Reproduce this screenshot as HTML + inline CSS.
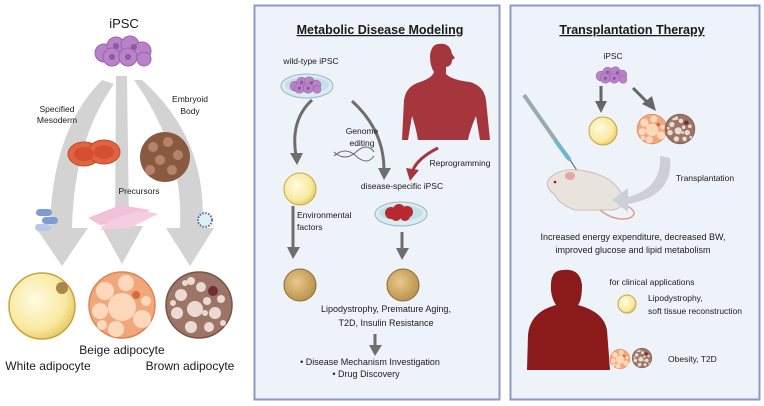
<!DOCTYPE html>
<html><head><meta charset="utf-8"><style>
html,body{margin:0;padding:0;background:#fff}
svg{display:block}
text{font-family:"Liberation Sans",Arial,sans-serif;fill:#1a1a1a}
</style></head><body>
<svg width="764" height="406" viewBox="0 0 764 406" xmlns="http://www.w3.org/2000/svg">
<defs>
<radialGradient id="yel" cx="40%" cy="40%" r="65%"><stop offset="0" stop-color="#fffbe0"/><stop offset="0.7" stop-color="#f9e9a0"/><stop offset="1" stop-color="#e5c860"/></radialGradient>
<radialGradient id="brn" cx="40%" cy="40%" r="65%"><stop offset="0" stop-color="#e8c98a"/><stop offset="1" stop-color="#b8904a"/></radialGradient>
<g id="beige"><circle r="33" fill="#f2a77a" stroke="#d9855a" stroke-width="1.5"/>
<circle cx="0" cy="2" r="14" fill="#fcd9bc"/><circle cx="-17" cy="-14" r="9" fill="#fcd9bc"/><circle cx="4" cy="-22" r="8" fill="#fcd9bc"/><circle cx="-22" cy="6" r="8" fill="#fcd9bc"/><circle cx="20" cy="14" r="9" fill="#fcd9bc"/><circle cx="-6" cy="24" r="8" fill="#fcd9bc"/><circle cx="-20" cy="20" r="5" fill="#fcd9bc"/><circle cx="24" cy="-4" r="5" fill="#fcd9bc"/><circle cx="14" cy="-10" r="4" fill="#d86a40"/></g>
<g id="brown"><circle r="33" fill="#9c7566" stroke="#7a5446" stroke-width="1.5"/>
<g fill="#eadbd2"><circle cx="-4" cy="4" r="8"/><circle cx="-18" cy="-10" r="6"/><circle cx="2" cy="-18" r="5"/><circle cx="-22" cy="8" r="6"/><circle cx="16" cy="8" r="6"/><circle cx="-8" cy="22" r="6"/><circle cx="10" cy="22" r="5"/><circle cx="22" cy="-6" r="4"/><circle cx="-8" cy="-24" r="4"/><circle cx="8" cy="-4" r="4"/><circle cx="-14" cy="-22" r="3"/><circle cx="24" cy="18" r="3"/><circle cx="-26" cy="-2" r="3"/><circle cx="6" cy="8" r="3"/></g>
<circle cx="14" cy="-14" r="5" fill="#6e3030"/></g>
<g id="ipsc" fill="#b982c8" stroke="#9a64ad" stroke-width="1"><circle cx="-20" cy="2" r="9"/><circle cx="-8" cy="-5" r="9"/><circle cx="6" cy="-6" r="9"/><circle cx="18" cy="0" r="9"/><circle cx="-12" cy="6" r="9"/><circle cx="4" cy="6" r="9"/><circle cx="20" cy="8" r="7"/>
<g fill="#8e5a9f" stroke="none"><circle cx="-12" cy="6" r="3"/><circle cx="4" cy="6" r="3"/><circle cx="-8" cy="-5" r="3"/><circle cx="10" cy="-4" r="3"/></g></g>
</defs>

<!-- LEFT PANEL -->
<text x="124" y="28" font-size="13" text-anchor="middle">iPSC</text>
<use href="#ipsc" x="124" y="51"/>
<g fill="#d3d3d3">
<path d="M102 80 Q52 130 50 228 L36 228 L62 266 L88 228 L72 228 Q74 140 114 84 Z"/>
<path d="M116 76 L115 226 L101 226 L122 264 L143 226 L129 226 L127 76 Z"/>
<path d="M134 80 L142 80 Q209 140 202 228 L214 228 L190 266 L166 228 L180 228 Q184 150 134 80 Z"/>
</g>
<text font-size="8.5" text-anchor="middle"><tspan x="57" y="112">Specified</tspan><tspan x="57" y="123">Mesoderm</tspan></text>
<text font-size="8.5" text-anchor="middle"><tspan x="190" y="102">Embryoid</tspan><tspan x="190" y="114">Body</tspan></text>
<text x="139" y="194" font-size="8.5" text-anchor="middle">Precursors</text>
<ellipse cx="84" cy="154" rx="16" ry="12" fill="#e0643f" stroke="#c04a2a"/>
<ellipse cx="104" cy="152" rx="16" ry="12" fill="#e0643f" stroke="#c04a2a"/>
<ellipse cx="84" cy="154" rx="10" ry="7" fill="#d34f30"/><ellipse cx="104" cy="152" rx="10" ry="7" fill="#d34f30"/>
<circle cx="165" cy="157" r="25" fill="#8a5a40"/>
<g fill="#b5826a"><circle cx="153" cy="147" r="5"/><circle cx="168" cy="142" r="5"/><circle cx="178" cy="155" r="5"/><circle cx="160" cy="160" r="5"/><circle cx="150" cy="170" r="5"/><circle cx="172" cy="170" r="5"/></g>
<path d="M88 218 L120 205 L150 210 L130 222 L100 225 Z" fill="#f2c0d8"/>
<path d="M110 220 L140 210 L158 214 L130 228 L100 230 Z" fill="#f5cde0"/>
<rect x="36" y="209" width="16" height="7" rx="3.5" fill="#7f9bd5"/><rect x="42" y="217" width="16" height="7" rx="3.5" fill="#7f9bd5"/><rect x="35" y="224" width="16" height="7" rx="3.5" fill="#b8c7e8"/>
<circle cx="205" cy="220" r="7" fill="#dff0f4" stroke="#4a6fa8" stroke-width="2" stroke-dasharray="1.5 1.5"/>
<circle cx="42" cy="306" r="33" fill="url(#yel)" stroke="#c8a440" stroke-width="1.5"/>
<circle cx="62" cy="288" r="6" fill="#a8884a"/>
<use href="#beige" x="122" y="305"/>
<use href="#brown" x="199" y="305"/>
<text font-size="12" text-anchor="middle"><tspan x="122" y="354">Beige adipocyte</tspan><tspan x="48" y="370">White adipocyte</tspan><tspan x="190" y="370">Brown adipocyte</tspan></text>

<!-- MIDDLE PANEL -->
<rect x="254.5" y="5.5" width="245" height="394" fill="#eef3fa" stroke="#8b9ac6" stroke-width="2"/>
<text x="380" y="34" font-size="12.5" font-weight="bold" text-anchor="middle" text-decoration="underline">Metabolic Disease Modeling</text>
<text x="311" y="64" font-size="8.5" text-anchor="middle">wild-type iPSC</text>
<ellipse cx="307" cy="86" rx="26" ry="12" fill="#d8ecf2" stroke="#9fb7c2"/>
<ellipse cx="307" cy="85" rx="22" ry="8" fill="#c3e0ea"/>
<use href="#ipsc" transform="translate(306,85) scale(0.55)"/>
<path d="M438 44 Q450 42 452 54 L455 58 L452 60 Q452 66 446 67 L446 74 Q452 80 470 82 Q484 86 486 100 L490 140 L480 140 L476 116 Q470 130 468 140 L418 140 Q416 128 412 116 L408 140 L402 140 L404 100 Q406 86 420 82 Q432 78 434 72 Q430 66 430 56 Q431 45 438 44 Z" fill="#a5363d"/>
<g fill="none" stroke="#6e6e6e" stroke-width="3">
<path d="M312 100 Q290 120 296 156"/>
<path d="M352 101 Q384 130 384 170"/>
<path d="M293 206 L293 248"/>
<path d="M402 232 L402 250"/>
<path d="M375 334 L375 346"/>
</g>
<g fill="#6e6e6e">
<path d="M290 153 L303 153 L297 165 Z"/>
<path d="M378 168 L391 168 L384 180 Z"/>
<path d="M287 247 L300 247 L293 259 Z"/>
<path d="M396 248 L409 248 L402 260 Z"/>
<path d="M369 345 L382 345 L375 356 Z"/>
</g>
<path d="M438 148 Q418 158 413 170" fill="none" stroke="#a5363d" stroke-width="3"/>
<path d="M406 168 L419 170 L410 181 Z" fill="#a5363d"/>
<text font-size="8.5" text-anchor="middle"><tspan x="362" y="134">Genome</tspan><tspan x="362" y="146">editing</tspan></text>
<path d="M334 152 Q345 162 356 152 Q367 142 374 152 M334 156 Q345 146 356 156 Q367 166 374 156" fill="none" stroke="#666" stroke-width="1"/>
<text x="460" y="166" font-size="8.5" text-anchor="middle">Reprogramming</text>
<text x="402" y="189" font-size="8.5" text-anchor="middle">disease-specific iPSC</text>
<circle cx="300" cy="189" r="16" fill="url(#yel)" stroke="#c8a440"/>
<text font-size="8.5"><tspan x="297" y="218">Environmental</tspan><tspan x="297" y="230">factors</tspan></text>
<ellipse cx="401" cy="214" rx="26" ry="12" fill="#d8ecf2" stroke="#9fb7c2"/>
<ellipse cx="401" cy="213" rx="22" ry="8" fill="#c3e0ea"/>
<g fill="#b8282f"><circle cx="391" cy="213" r="6"/><circle cx="399" cy="210" r="6"/><circle cx="407" cy="212" r="6"/><circle cx="396" cy="216" r="5"/><circle cx="405" cy="216" r="5"/></g>
<circle cx="300" cy="285" r="16" fill="url(#brn)" stroke="#8c6a30"/>
<circle cx="403" cy="285" r="16" fill="url(#brn)" stroke="#8c6a30"/>
<text font-size="9" text-anchor="middle"><tspan x="386" y="312">Lipodystrophy, Premature Aging,</tspan><tspan x="386" y="326">T2D, Insulin Resistance</tspan></text>
<text font-size="9" text-anchor="middle"><tspan x="370" y="365">•  Disease Mechanism Investigation</tspan><tspan x="366" y="377">•  Drug Discovery</tspan></text>

<!-- RIGHT PANEL -->
<rect x="510.5" y="5.5" width="249" height="394" fill="#eef3fa" stroke="#8b9ac6" stroke-width="2"/>
<text x="632" y="34" font-size="12.5" font-weight="bold" text-anchor="middle" text-decoration="underline">Transplantation Therapy</text>
<text x="613" y="59" font-size="8.5" text-anchor="middle">iPSC</text>
<use href="#ipsc" transform="translate(612,75) scale(0.55)"/>
<g stroke="#666" stroke-width="3"><path d="M601 86 L601 102"/><path d="M633 88 L647 102"/></g>
<g fill="#666"><path d="M595 101 L607 101 L601 113 Z"/><path d="M642 104 L652 96 L656 111 Z"/></g>
<circle cx="603" cy="131" r="14" fill="url(#yel)" stroke="#c8a440"/>
<use href="#beige" transform="translate(652,129) scale(0.45)"/>
<use href="#brown" transform="translate(680,129) scale(0.45)"/>
<path d="M524 95 L568 158" stroke="#9aa" stroke-width="4"/>
<path d="M555 140 L570 160" stroke="#6fb8cc" stroke-width="4"/>
<path d="M570 160 L578 172" stroke="#555" stroke-width="1"/>
<path d="M548 180 Q560 165 590 172 Q615 178 622 195 Q626 208 612 210 L575 210 Q560 205 555 195 Q545 188 548 180 Z" fill="#e8e3dd" stroke="#c8c0b8"/>
<ellipse cx="570" cy="176" rx="5" ry="4" fill="#e8a6a0"/>
<circle cx="555" cy="182" r="1.3" fill="#c00"/>
<path d="M600 210 Q615 222 630 218 Q640 212 625 205" fill="none" stroke="#e09b95" stroke-width="1.5"/>
<path d="M660 156 Q662 188 628 197 L628 188 L612 200 L628 212 L628 204 Q674 196 670 158 Z" fill="#ccd0d6"/>
<text x="705" y="181" font-size="8.5" text-anchor="middle">Transplantation</text>
<text font-size="9" text-anchor="middle"><tspan x="633" y="240">Increased energy expenditure, decreased BW,</tspan><tspan x="633" y="253">improved glucose and lipid metabolism</tspan></text>
<path d="M563 270 Q580 268 582 285 Q582 300 578 305 Q604 312 607 330 L610 370 L527 370 L528 335 Q530 312 556 305 Q550 296 551 283 Q552 270 563 270 Z" fill="#8b1a1a"/>
<text x="652" y="285" font-size="8.5" text-anchor="middle">for clinical applications</text>
<circle cx="627" cy="304" r="9" fill="url(#yel)" stroke="#c8a440"/>
<text font-size="8.5"><tspan x="648" y="301">Lipodystrophy,</tspan><tspan x="648" y="314">soft tissue reconstruction</tspan></text>
<use href="#beige" transform="translate(620,359) scale(0.3)"/>
<use href="#brown" transform="translate(642,358) scale(0.3)"/>
<text x="668" y="362" font-size="8.5">Obesity, T2D</text>
</svg>
</body></html>
